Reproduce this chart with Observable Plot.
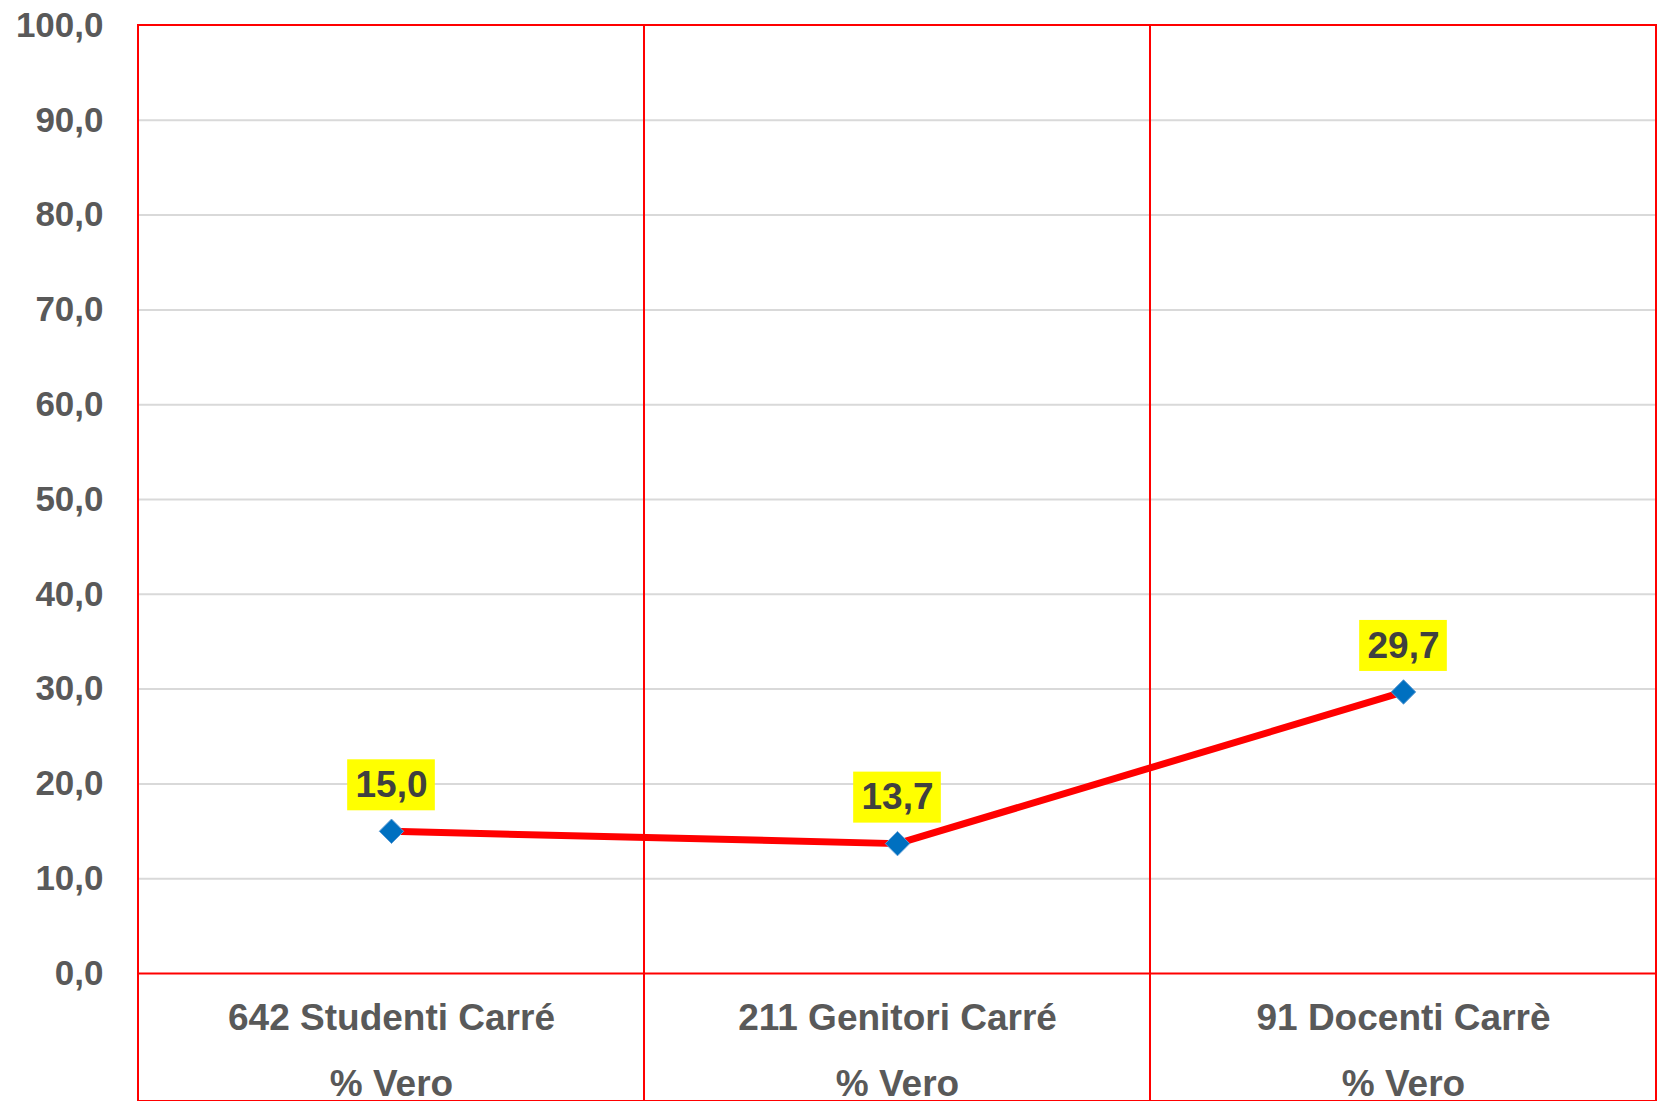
<!DOCTYPE html>
<html><head><meta charset="utf-8">
<script src="https://cdn.jsdelivr.net/npm/d3@7"></script>
<script src="https://cdn.jsdelivr.net/npm/@observablehq/plot@0.6"></script>
<style>body{margin:0;background:#fff}</style>
</head><body><div id="chart"></div>
<script>
const categories = ["642 Studenti Carré", "211 Genitori Carré", "91 Docenti Carrè"];
const subLabels = ["% Vero", "% Vero", "% Vero"];
const values = [15.0, 13.7, 29.7];
const yTicks = [0, 10, 20, 30, 40, 50, 60, 70, 80, 90, 100];

const data = categories.map((c, i) => ({cat: c, sub: subLabels[i], v: values[i]}));
const fmt = d => d.toFixed(1).replace(".", ",");
const W = 1663, H = 1101, mL = 137, mR = 7, mT = 25, mB = 128;
const band = (W - mL - mR) / categories.length;
const boxW = 88, boxH = 51, lblOff = 46;

const chart = Plot.plot({
  width: W, height: H,
  marginLeft: mL, marginRight: mR, marginTop: mT, marginBottom: mB,
  style: {fontFamily: "'Liberation Sans', Arial, sans-serif", background: "#fff", overflow: "visible"},
  x: {type: "band", domain: categories, padding: 0},
  y: {domain: [0, 100]},
  marks: [
    Plot.gridY(yTicks.filter(t => t > 0 && t < 100), {stroke: "#d9d9d9", strokeOpacity: 1, strokeWidth: 2}),
    Plot.cell(categories, {x: d => d, fill: "none", stroke: "#ff0000", strokeWidth: 2, insetBottom: -mB}),
    Plot.ruleY([0], {stroke: "#ff0000", strokeWidth: 2}),
    Plot.axisY({ticks: yTicks, tickSize: 0, tickPadding: 34, tickFormat: fmt, fontSize: 35, fontWeight: "bold", fill: "#595959", label: null}),
    Plot.axisX({tickSize: 0, tickPadding: 10, tickFormat: c => c + "\n" + subLabels[categories.indexOf(c)], fontSize: 37, fontWeight: "bold", fill: "#595959", lineHeight: 65.5 / 37, label: null}),
    Plot.lineY(data, {x: "cat", y: "v", stroke: "#ff0000", strokeWidth: 7}),
    Plot.dot(data, {x: "cat", y: "v", symbol: "diamond2", r: 11, fill: "#0070c0", stroke: "#5b9bd5", strokeWidth: 1}),
    Plot.barY(data, {x: "cat", y1: "v", y2: "v", fill: "#ffff00",
      insetLeft: (band - boxW) / 2, insetRight: (band - boxW) / 2,
      insetTop: -(lblOff + boxH / 2), insetBottom: lblOff - boxH / 2}),
    Plot.text(data, {x: "cat", y: "v", text: d => fmt(d.v), dy: -lblOff, fontSize: 37, fontWeight: "bold", fill: "#404040"})
  ]
});
document.getElementById("chart").appendChild(chart);
</script>
</body></html>
